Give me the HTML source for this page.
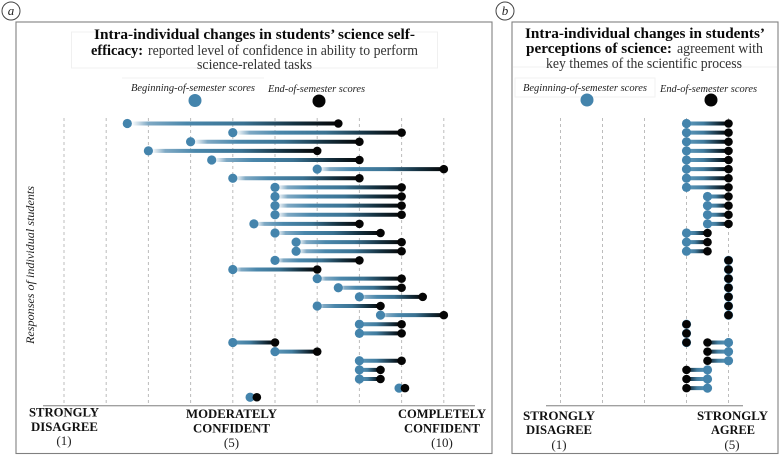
<!DOCTYPE html>
<html lang="en">
<head>
<meta charset="utf-8">
<title>Intra-individual changes in students' science perceptions</title>
<style>
html,body{margin:0;padding:0;background:#fff;width:780px;height:456px;overflow:hidden}
svg{display:block;filter:blur(0.35px)}
text{font-family:"Liberation Serif","DejaVu Serif",serif;fill:#222}
.t{font-size:14.5px;fill:#333}
.tb{font-size:14.5px;font-weight:bold;fill:#0a0a0a}
.leg{font-size:11px;font-style:italic;fill:#222}
.ax{font-size:13px;font-weight:bold;fill:#111}
.val{font-size:13px;fill:#222;text-anchor:middle}
</style>
</head>
<body>
<svg id="chart" xmlns="http://www.w3.org/2000/svg" width="780" height="456" viewBox="0 0 780 456">
  <defs>
    <linearGradient id="long-forward">
      <stop offset="0.02" stop-color="#ffffff"/>
      <stop offset="0.1" stop-color="#7fa9c4"/>
      <stop offset="0.28" stop-color="#4a87ab"/>
      <stop offset="0.55" stop-color="#3a7292"/>
      <stop offset="0.8" stop-color="#14303f"/>
      <stop offset="1" stop-color="#050505"/>
    </linearGradient>
    <linearGradient id="short-forward">
      <stop offset="0.05" stop-color="#5b96b8"/>
      <stop offset="0.4" stop-color="#417c9f"/>
      <stop offset="0.85" stop-color="#0c1c26"/>
      <stop offset="1" stop-color="#050505"/>
    </linearGradient>
    <linearGradient id="short-reverse" x1="1" x2="0">
      <stop offset="0.05" stop-color="#5b96b8"/>
      <stop offset="0.5" stop-color="#417c9f"/>
      <stop offset="0.95" stop-color="#0c1c26"/>
      <stop offset="1" stop-color="#050505"/>
    </linearGradient>
  </defs>

  <!-- panel a -->
  <g>
    <circle cx="11" cy="11" r="9" fill="#fff" stroke="#444" stroke-width="1"/>
    <text x="11" y="15" text-anchor="middle" style="font-size:13px;font-style:italic">a</text>
    <rect x="16" y="22" width="476" height="431.5" fill="none" stroke="#808080" stroke-width="1.1"/>
    <rect x="71.5" y="32" width="366" height="36" fill="none" stroke="#f0f0f0" stroke-width="1"/>
    <line x1="122" y1="78" x2="264" y2="78" stroke="#f0f0f0" stroke-width="1"/>
    <text class="tb" x="94" y="39" textLength="321" lengthAdjust="spacingAndGlyphs">Intra-individual changes in students’ science self-</text>
    <text class="tb" x="91" y="55" textLength="52" lengthAdjust="spacingAndGlyphs">efficacy:</text>
    <text class="t" x="148" y="55" textLength="270" lengthAdjust="spacingAndGlyphs">reported level of confidence in ability to perform</text>
    <text class="t" x="197" y="69" textLength="115" lengthAdjust="spacingAndGlyphs">science-related tasks</text>
    <text class="leg" x="131" y="91" textLength="124" lengthAdjust="spacingAndGlyphs">Beginning-of-semester scores</text>
    <text class="leg" x="268" y="92" textLength="97" lengthAdjust="spacingAndGlyphs">End-of-semester scores</text>
    <circle cx="195" cy="100.5" r="6.5" fill="#4484ac"/>
    <circle cx="319" cy="101" r="6.5" fill="#050505"/>
    <text transform="translate(34 265) rotate(-90)" text-anchor="middle" textLength="158" lengthAdjust="spacingAndGlyphs" style="font-size:12px;font-style:italic;fill:#222">Responses of individual students</text>
    <g id="panel-a-grid"></g>
    <line x1="43" y1="405.7" x2="475" y2="405.7" stroke="#a0a0a0" stroke-width="1.3"/>
    <g id="panel-a-marks"></g>
    <text class="ax" x="29" y="416.7" textLength="70" lengthAdjust="spacingAndGlyphs">STRONGLY</text>
    <text class="ax" x="31" y="431" textLength="67" lengthAdjust="spacingAndGlyphs">DISAGREE</text>
    <text class="val" x="64" y="445">(1)</text>
    <text class="ax" x="186" y="418" textLength="91" lengthAdjust="spacingAndGlyphs">MODERATELY</text>
    <text class="ax" x="193" y="432.7" textLength="77" lengthAdjust="spacingAndGlyphs">CONFIDENT</text>
    <text class="val" x="231.5" y="447">(5)</text>
    <text class="ax" x="398" y="418" textLength="88" lengthAdjust="spacingAndGlyphs">COMPLETELY</text>
    <text class="ax" x="404" y="432.7" textLength="76" lengthAdjust="spacingAndGlyphs">CONFIDENT</text>
    <text class="val" x="442" y="447">(10)</text>
  </g>

  <!-- panel b -->
  <g>
    <circle cx="505" cy="11" r="9" fill="#fff" stroke="#444" stroke-width="1"/>
    <text x="505" y="15" text-anchor="middle" style="font-size:13px;font-style:italic">b</text>
    <rect x="512" y="22" width="266" height="431.5" fill="none" stroke="#808080" stroke-width="1.1"/>
    <line x1="513" y1="67" x2="777" y2="67" stroke="#f2f2f2" stroke-width="1"/>
    <rect x="515" y="78" width="140" height="19" fill="none" stroke="#f2f2f2" stroke-width="1"/>
    <text class="tb" x="525" y="38" textLength="240" lengthAdjust="spacingAndGlyphs">Intra-individual changes in students’</text>
    <text class="tb" x="526" y="53" textLength="146" lengthAdjust="spacingAndGlyphs">perceptions of science:</text>
    <text class="t" x="677" y="53" textLength="86" lengthAdjust="spacingAndGlyphs">agreement with</text>
    <text class="t" x="546" y="68" textLength="196" lengthAdjust="spacingAndGlyphs">key themes of the scientific process</text>
    <text class="leg" x="523" y="91" textLength="124" lengthAdjust="spacingAndGlyphs">Beginning-of-semester scores</text>
    <text class="leg" x="660" y="92" textLength="97" lengthAdjust="spacingAndGlyphs">End-of-semester scores</text>
    <circle cx="587" cy="100" r="6.5" fill="#4484ac"/>
    <circle cx="711" cy="100" r="6.5" fill="#050505"/>
    <g id="panel-b-grid"></g>
    <line x1="546" y1="405.7" x2="743" y2="405.7" stroke="#a0a0a0" stroke-width="1.3"/>
    <g id="panel-b-marks"></g>
    <text class="ax" x="523" y="420" textLength="72" lengthAdjust="spacingAndGlyphs">STRONGLY</text>
    <text class="ax" x="526" y="434" textLength="66" lengthAdjust="spacingAndGlyphs">DISAGREE</text>
    <text class="val" x="559" y="449">(1)</text>
    <text class="ax" x="697" y="420" textLength="71" lengthAdjust="spacingAndGlyphs">STRONGLY</text>
    <text class="ax" x="711" y="434" textLength="44" lengthAdjust="spacingAndGlyphs">AGREE</text>
    <text class="val" x="732" y="449">(5)</text>
  </g>
</svg>
<script>
// Panel a: confidence scores (1-10), one entry per student, top to bottom
const ticksA = [1, 2, 3, 4, 5, 6, 7, 8, 9, 10];
const beginA = [2.5, 5, 4, 3, 4.5, 7, 5, 6, 6, 6, 6, 5.5, 6, 6.5, 6.5, 6, 5, 7, 7.5, 8, 7, 8.5, 8, 8, 5, 6, 8, 8, 8, 8.94, 5.41];
const endA   = [7.5, 9, 8, 7, 8, 10, 8, 9, 9, 9, 9, 8, 8.5, 9, 9, 8, 7, 9, 9, 9.5, 8.5, 10, 9, 9, 6, 7, 9, 8.5, 8.5, 9.08, 5.57];
const rowsA  = [0, 1, 2, 3, 4, 5, 6, 7, 8, 9, 10, 11, 12, 13, 14, 15, 16, 17, 18, 19, 20, 21, 22, 23, 24, 25, 26, 27, 28, 29, 30];

// Panel b: agreement scores (1-5), one entry per student, top to bottom
const ticksB = [1, 2, 3, 4, 5];
const beginB = [4, 4, 4, 4, 4, 4, 4, 4, 4.5, 4.5, 4.5, 4.5, 4, 4, 4, 5, 5, 5, 5, 5, 5, 5, 4, 4, 4, 5, 5, 5, 4.5, 4.5, 4.5];
const endB   = [5, 5, 5, 5, 5, 5, 5, 5, 5, 5, 5, 5, 4.5, 4.5, 4.5, 5, 5, 5, 5, 5, 5, 5, 4, 4, 4, 4.5, 4.5, 4.5, 4, 4, 4];
const rowsB  = [0, 1, 2, 3, 4, 5, 6, 7, 8, 9, 10, 11, 12, 13, 14, 15, 16, 17, 18, 19, 20, 21, 22, 23, 24, 24, 25, 26, 27, 28, 29];

const NS = 'http://www.w3.org/2000/svg';

function xA(score) { return 64 + (score - 1) * 42.2; }
function xB(score) { return 560.5 + (score - 1) * 42; }
function yRow(row) { return 123.5 + row * 9.125; }

function make(tag, attrs, parent) {
  const el = document.createElementNS(NS, tag);
  for (const k in attrs) el.setAttribute(k, attrs[k]);
  parent.appendChild(el);
  return el;
}

function drawGrid(groupId, ticks, xScale) {
  const g = document.getElementById(groupId);
  ticks.forEach(function (t) {
    const l = make('line', { x1: xScale(t), x2: xScale(t), y1: 118, y2: 405, stroke: '#bcbcbc', 'stroke-width': 1, 'stroke-dasharray': '3 3' }, g);
    
    
  });
}

function drawMarks(groupId, begin, end, rows, xScale) {
  const g = document.getElementById(groupId);
  begin.forEach(function (b, i) {
    const e = end[i];
    const y = yRow(rows[i]);
    const x1 = xScale(b);
    const x2 = xScale(e);
    if (x1 !== x2) {
      const fill = x2 < x1 ? 'url(#short-reverse)' : ((x2 - x1) > 60 ? 'url(#long-forward)' : 'url(#short-forward)');
      const bar = make('rect', { x: Math.min(x1, x2), y: y - 2, width: Math.abs(x2 - x1), height: 4, fill: fill }, g);
      
      
    }
    const dotBegin = make('circle', { cx: x1, cy: y, r: 4.6, fill: '#4484ac' }, g);
    
    
    const dotEnd = make('circle', { cx: x2, cy: y, r: 4.3, fill: '#050505' }, g);
    
    
  });
}

drawGrid('panel-a-grid', ticksA, xA);
drawGrid('panel-b-grid', ticksB, xB);
drawMarks('panel-a-marks', beginA, endA, rowsA, xA);
drawMarks('panel-b-marks', beginB, endB, rowsB, xB);
</script>
</body>
</html>
